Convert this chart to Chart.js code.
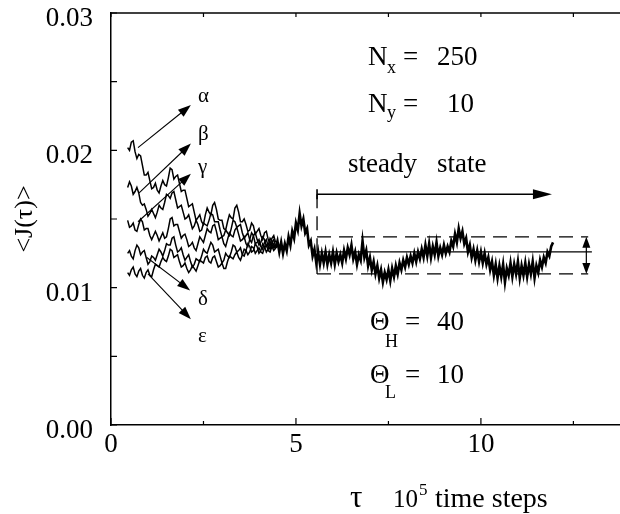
<!DOCTYPE html>
<html>
<head>
<meta charset="utf-8">
<script src="https://cdn.jsdelivr.net/npm/chart.js@4.4.1/dist/chart.umd.min.js"></script>
<style>html,body{margin:0;padding:0;background:#fff}</style>
</head>
<body>
<canvas id="chart" width="620" height="514"></canvas>
<script>
// transient runs, sampled every 0.05 (x 10^5 steps) from tau = 0.45
const transStart = 0.45, transStep = 0.05;
const alphaJ = [0.0202,0.0200,0.0206,0.0207,0.0199,0.0194,0.0197,0.0196,0.0189,0.0182,0.0182,0.0184,0.0178,0.0172,0.0173,0.0176,0.0171,0.0169,0.0174,0.0178,0.0175,0.0174,0.0180,0.0187,0.0186,0.0179,0.0181,0.0182,0.0176,0.0170,0.0171,0.0171,0.0165,0.0159,0.0160,0.0161,0.0155,0.0149,0.0151,0.0153,0.0148,0.0146,0.0153,0.0158,0.0155,0.0153,0.0160,0.0162,0.0157,0.0150,0.0149,0.0149,0.0143,0.0142,0.0148,0.0153,0.0151,0.0150,0.0158,0.0160,0.0155,0.0148,0.0148,0.0150,0.0146,0.0141,0.0142,0.0147,0.0145,0.0139,0.0141,0.0143,0.0138,0.0135,0.0140,0.0141,0.0135,0.0132,0.0136,0.0138,0.0133];
const betaJ = [0.0173,0.0177,0.0174,0.0168,0.0170,0.0173,0.0169,0.0162,0.0160,0.0161,0.0157,0.0152,0.0154,0.0157,0.0154,0.0151,0.0155,0.0160,0.0158,0.0157,0.0162,0.0168,0.0167,0.0165,0.0169,0.0170,0.0164,0.0158,0.0159,0.0160,0.0155,0.0150,0.0151,0.0153,0.0148,0.0143,0.0145,0.0149,0.0146,0.0141,0.0142,0.0147,0.0146,0.0145,0.0149,0.0154,0.0153,0.0148,0.0148,0.0148,0.0142,0.0137,0.0138,0.0142,0.0140,0.0138,0.0143,0.0149,0.0148,0.0144,0.0145,0.0146,0.0140,0.0136,0.0138,0.0140,0.0135,0.0133,0.0138,0.0140,0.0135,0.0131,0.0133,0.0137,0.0135,0.0130,0.0131,0.0136,0.0134,0.0129,0.0130];
const gammaJ = [0.0149,0.0144,0.0145,0.0147,0.0142,0.0141,0.0146,0.0150,0.0148,0.0142,0.0143,0.0143,0.0138,0.0135,0.0138,0.0141,0.0138,0.0134,0.0137,0.0140,0.0136,0.0137,0.0143,0.0150,0.0151,0.0145,0.0146,0.0146,0.0141,0.0136,0.0138,0.0139,0.0135,0.0130,0.0131,0.0133,0.0129,0.0127,0.0132,0.0137,0.0135,0.0133,0.0138,0.0143,0.0141,0.0140,0.0145,0.0146,0.0141,0.0135,0.0136,0.0137,0.0132,0.0130,0.0135,0.0140,0.0138,0.0137,0.0142,0.0144,0.0139,0.0134,0.0135,0.0137,0.0132,0.0130,0.0135,0.0140,0.0138,0.0132,0.0133,0.0135,0.0130,0.0128,0.0133,0.0135,0.0130,0.0128,0.0133,0.0135,0.0130];
const deltaJ = [0.0125,0.0127,0.0123,0.0121,0.0127,0.0131,0.0129,0.0124,0.0126,0.0127,0.0122,0.0117,0.0119,0.0123,0.0122,0.0120,0.0124,0.0128,0.0126,0.0123,0.0127,0.0132,0.0131,0.0131,0.0136,0.0137,0.0131,0.0126,0.0127,0.0129,0.0124,0.0120,0.0122,0.0124,0.0119,0.0115,0.0117,0.0121,0.0120,0.0119,0.0123,0.0128,0.0126,0.0125,0.0129,0.0133,0.0131,0.0126,0.0127,0.0128,0.0123,0.0118,0.0120,0.0125,0.0123,0.0122,0.0126,0.0131,0.0130,0.0126,0.0127,0.0129,0.0124,0.0123,0.0127,0.0132,0.0130,0.0126,0.0127,0.0132,0.0130,0.0125,0.0127,0.0132,0.0130,0.0126,0.0128,0.0132,0.0130,0.0127,0.0129];
const epsilonJ = [0.0111,0.0109,0.0113,0.0115,0.0110,0.0108,0.0112,0.0114,0.0109,0.0107,0.0111,0.0113,0.0109,0.0108,0.0113,0.0117,0.0116,0.0115,0.0119,0.0122,0.0120,0.0119,0.0123,0.0128,0.0127,0.0122,0.0123,0.0124,0.0119,0.0115,0.0116,0.0118,0.0114,0.0111,0.0113,0.0116,0.0114,0.0112,0.0116,0.0120,0.0119,0.0118,0.0122,0.0123,0.0119,0.0118,0.0122,0.0123,0.0119,0.0115,0.0116,0.0118,0.0114,0.0114,0.0119,0.0123,0.0122,0.0121,0.0124,0.0126,0.0122,0.0120,0.0124,0.0128,0.0127,0.0124,0.0126,0.0130,0.0129,0.0125,0.0127,0.0129,0.0126,0.0125,0.0129,0.0131,0.0127,0.0126,0.0130,0.0132,0.0128];

// merged runs, sampled every 0.05 from tau = 4.45
const tailStart = 4.45, tailStep = 0.05;
const tailJ = [
  0.0129,0.0134,0.0126,0.0133,0.0125,0.0132,0.0127,0.0137,0.0131,0.0141,
  0.0136,0.0147,0.0142,0.0154,0.0145,0.0150,0.0140,0.0143,0.0131,0.0134,
  0.0123,0.0128,0.0118,0.0126,0.0117,0.0125,0.0118,0.0126,0.0117,0.0124,
  0.0118,0.0126,0.0117,0.0125,0.0119,0.0124,0.0118,0.0127,0.0121,0.0129,
  0.0124,0.0131,0.0121,0.0126,0.0117,0.0124,0.0120,0.0134,0.0122,0.0127,
  0.0116,0.0122,0.0113,0.0119,0.0110,0.0116,0.0107,0.0113,0.0104,0.0111,
  0.0106,0.0113,0.0105,0.0114,0.0108,0.0116,0.0110,0.0118,0.0113,0.0120,
  0.0115,0.0122,0.0117,0.0123,0.0118,0.0125,0.0119,0.0126,0.0121,0.0128,
  0.0122,0.0131,0.0123,0.0132,0.0122,0.0130,0.0124,0.0133,0.0123,0.0129,
  0.0124,0.0131,0.0125,0.0130,0.0126,0.0134,0.0130,0.0139,0.0133,0.0143,
  0.0136,0.0141,0.0132,0.0136,0.0126,0.0131,0.0122,0.0128,0.0120,0.0127,
  0.0119,0.0126,0.0118,0.0125,0.0117,0.0122,0.0113,0.0119,0.0109,0.0117,
  0.0107,0.0116,0.0108,0.0117,0.0104,0.0114,0.0109,0.0118,0.0108,0.0117,
  0.0110,0.0119,0.0107,0.0116,0.0109,0.0118,0.0108,0.0117,0.0110,0.0119,
  0.0107,0.0116,0.0111,0.0120,0.0115,0.0122,0.0118,0.0126,0.0123,0.0130,0.0133
];

// steady state band
const ssStart = 5.57, ssEnd = 12.9;
const ssMean = 0.0126, ssUpper = 0.0137, ssLower = 0.0110, ssArrowY = 0.0168, ssArrowEnd = 11.92;

const xTickValues = [0, 2.5, 5, 7.5, 10, 12.5];
const xTickLabels = ['0', '', '5', '', '10', ''];
const yTickValues = [0, 0.005, 0.01, 0.015, 0.02, 0.025, 0.03];
const yTickLabels = ['0.00', '', '0.01', '', '0.02', '', '0.03'];

const greekLabels = ['α', 'β', 'γ', 'δ', 'ε'];
const greekLabelY = [0.02352, 0.02075, 0.01835, 0.00874, 0.00604];
const greekArrows = [
  [0.73, 0.0202, 2.16, 0.0233],
  [0.76, 0.0169, 2.16, 0.0205],
  [0.73, 0.0148, 2.16, 0.0183],
  [0.97, 0.0122, 2.14, 0.0098],
  [1.00, 0.0110, 2.16, 0.0077]
];

const serif = "'Times New Roman', 'Liberation Serif', Times, 'DejaVu Serif', serif";
const font = s => s + 'px ' + serif;

const toPoints = (arr, start, step) => arr.map((v, i) => ({x: +(start + i * step).toFixed(3), y: v}));
const seg = (x1, y1, x2, y2) => [{x: x1, y: y1}, {x: x2, y: y2}];

function curve(data, w) {
  return {data, borderColor: '#000', borderWidth: w, pointRadius: 0, tension: 0, fill: false};
}

function arrow(ctx, x1, y1, x2, y2, len, half) {
  const a = Math.atan2(y2 - y1, x2 - x1), c = Math.cos(a), s = Math.sin(a);
  ctx.beginPath();
  ctx.moveTo(x1, y1);
  ctx.lineTo(x2 - c * len * 0.7, y2 - s * len * 0.7);
  ctx.stroke();
  ctx.beginPath();
  ctx.moveTo(x2, y2);
  ctx.lineTo(x2 - len * c + half * s, y2 - len * s - half * c);
  ctx.lineTo(x2 - len * c - half * s, y2 - len * s + half * c);
  ctx.closePath();
  ctx.fill();
}

function runs(ctx, px, py, parts) {
  parts.forEach(([t, size, dx, dy]) => {
    ctx.font = font(size);
    ctx.fillText(t, px + dx, py + dy);
  });
}

const annotate = {
  id: 'annotate',
  afterDatasetsDraw(chart) {
    const {ctx, chartArea: a, scales: {x, y}} = chart;
    const X = v => x.getPixelForValue(v), Y = v => y.getPixelForValue(v);
    ctx.save();
    ctx.strokeStyle = '#000';
    ctx.fillStyle = '#000';

    // top frame line and inward ticks
    ctx.lineWidth = 1.5;
    ctx.beginPath(); ctx.moveTo(a.left, a.top); ctx.lineTo(a.right, a.top); ctx.stroke();
    ctx.lineWidth = 1.2;
    ctx.beginPath();
    yTickValues.forEach(v => { ctx.moveTo(a.left, Y(v)); ctx.lineTo(a.left + 6, Y(v)); });
    xTickValues.forEach((v, i) => {
      const len = xTickLabels[i] ? 7 : 4;
      ctx.moveTo(X(v), a.bottom); ctx.lineTo(X(v), a.bottom - len);
      ctx.moveTo(X(v), a.top); ctx.lineTo(X(v), a.top + 4);
    });
    ctx.stroke();

    // greek arrows and labels
    ctx.lineWidth = 1.1;
    greekArrows.forEach(([x1, y1, x2, y2]) => arrow(ctx, X(x1), Y(y1), X(x2), Y(y2), 13, 4.5));
    ctx.font = font(21);
    ctx.textBaseline = 'alphabetic';
    greekLabels.forEach((g, i) => ctx.fillText(g, X(2.35), Y(greekLabelY[i])));

    // steady state arrow
    ctx.lineWidth = 1.6;
    arrow(ctx, X(ssStart), Y(ssArrowY), X(ssArrowEnd), Y(ssArrowY), 19, 5);
    ctx.beginPath();
    ctx.moveTo(X(ssStart), Y(ssArrowY) - 5); ctx.lineTo(X(ssStart), Y(ssArrowY) + 5);
    ctx.stroke();

    // double arrow for the fluctuation band
    ctx.lineWidth = 1.2;
    const bx = X(12.85), bm = Y(ssMean);
    arrow(ctx, bx, bm, bx, Y(ssUpper), 11, 4);
    arrow(ctx, bx, bm, bx, Y(ssLower), 11, 4);

    // parameter texts
    runs(ctx, X(6.95), Y(0.0262), [['N', 27, 0, 0], ['x', 18, 19, 8], ['=', 27, 35, 0], ['250', 27, 69, 0]]);
    runs(ctx, X(6.95), Y(0.02279), [['N', 27, 0, 0], ['y', 18, 19, 6], ['=', 27, 35, 0], ['10', 27, 79, 0]]);
    runs(ctx, X(6.41), Y(0.01842), [['steady', 27, 0, 0], ['state', 27, 89, 0]]);
    runs(ctx, X(7.0), Y(0.00692), [['Θ', 27, 0, 0], ['H', 18, 15, 17], ['=', 27, 35, 0], ['40', 27, 67, 0]]);
    runs(ctx, X(7.0), Y(0.00306), [['Θ', 27, 0, 0], ['L', 18, 15, 15], ['=', 27, 35, 0], ['10', 27, 67, 0]]);

    // x axis title
    runs(ctx, 350, 507, [['τ', 31, 0, 0], ['10', 25, 43, 0], ['5', 17, 69, -12], ['time steps', 28, 85, 0]]);
    ctx.restore();
  }
};

new Chart(document.getElementById('chart'), {
  type: 'line',
  data: {
    datasets: [
      curve(toPoints(alphaJ, transStart, transStep), 1.5),
      curve(toPoints(betaJ, transStart, transStep), 1.5),
      curve(toPoints(gammaJ, transStart, transStep), 1.5),
      curve(toPoints(deltaJ, transStart, transStep), 1.5),
      curve(toPoints(epsilonJ, transStart, transStep), 1.5),
      curve(toPoints(tailJ, tailStart, tailStep), 2.6),
      curve(seg(ssStart, ssMean, 13.0, ssMean), 1.2),
      Object.assign(curve(seg(ssStart, ssUpper, ssEnd, ssUpper), 1.3), {borderDash: [14, 8]}),
      Object.assign(curve(seg(ssStart, ssLower, ssEnd, ssLower), 1.3), {borderDash: [14, 8]}),
      Object.assign(curve(seg(ssStart, ssArrowY, ssStart, ssLower), 1.3), {borderDash: [14, 8]})
    ]
  },
  options: {
    responsive: false,
    animation: false,
    devicePixelRatio: 1,
    layout: {padding: {top: 13, right: 0, left: 0, bottom: 0}},
    plugins: {legend: {display: false}, tooltip: {enabled: false}},
    scales: {
      x: {
        type: 'linear',
        min: 0,
        max: 13.76,
        afterBuildTicks: s => { s.ticks = xTickValues.map(v => ({value: v})); },
        afterFit: s => { s.height = 89; s.paddingLeft = 0; s.paddingRight = 0; },
        ticks: {
          callback: (v, i) => xTickLabels[i],
          maxRotation: 0,
          autoSkip: false,
          padding: 4,
          color: '#000',
          font: {family: serif, size: 27}
        },
        grid: {drawOnChartArea: false, drawTicks: false},
        border: {color: '#000', width: 1.5}
      },
      y: {
        min: 0,
        max: 0.03,
        afterBuildTicks: s => { s.ticks = yTickValues.map(v => ({value: v})); },
        afterFit: s => { s.width = 111; s.paddingTop = 0; s.paddingBottom = 0; },
        ticks: {
          callback: (v, i) => yTickLabels[i],
          autoSkip: false,
          padding: 18,
          labelOffset: 6,
          color: '#000',
          font: {family: serif, size: 27}
        },
        title: {
          display: true,
          text: '<J(τ)>',
          color: '#000',
          font: {family: serif, size: 26},
          padding: {top: 10, bottom: 0}
        },
        grid: {drawOnChartArea: false, drawTicks: false},
        border: {color: '#000', width: 1.5}
      }
    }
  },
  plugins: [annotate]
});
</script>
</body>
</html>
